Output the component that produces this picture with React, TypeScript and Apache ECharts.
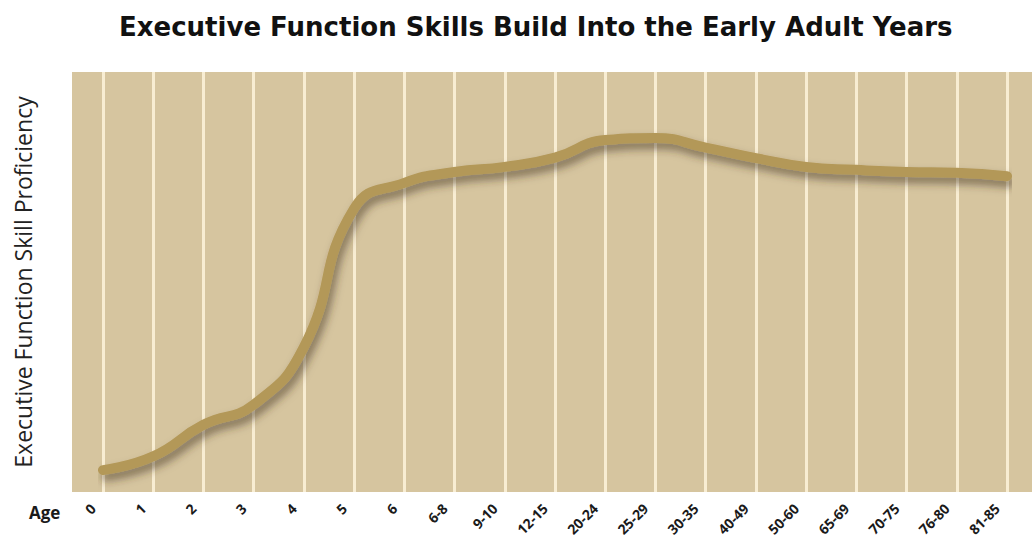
import React, { useEffect, useRef } from "react";
import * as echarts from "echarts";

const titleText = "Executive Function Skills Build Into the Early Adult Years";
const yAxisName = "Executive Function Skill Proficiency";
const xAxisName = "Age";
const ageCategories = [
  "0", "1", "2", "3", "4", "5", "6", "6-8", "9-10", "12-15", "20-24",
  "25-29", "30-35", "40-49", "50-60", "65-69", "70-75", "76-80", "81-85",
];
const proficiency = [
  5.2, 8.5, 16, 20.8, 34.5, 67.5, 73.6, 76.2, 77.4, 79.6, 83.8,
  84.3, 82, 79.5, 77.4, 76.7, 76.2, 76, 75.2,
];

export default function App() {
  const ref = useRef<HTMLDivElement>(null);
  useEffect(() => {
    document.body.style.margin = "0";
    if (!ref.current) return;
    const chart = echarts.init(ref.current, null, { renderer: "svg" });
    chart.setOption({
      animation: false,
      backgroundColor: "#ffffff",
      title: {
        text: titleText,
        left: 114,
        top: 9,
        textStyle: {
          fontFamily: "DejaVu Sans",
          fontWeight: "bold",
          fontSize: 26,
          color: "#111111",
        },
      },
      graphic: [
        {
          type: "text",
          left: 29,
          top: 504,
          style: {
            text: xAxisName,
            font: "bold 17px 'Open Sans'",
            fill: "#1a1a1a",
          },
        },
      ],
      grid: [
        { left: 72, right: 0, top: 72, bottom: 52, show: true, backgroundColor: "#d6c59f", borderWidth: 0, outerBoundsMode: "none", containLabel: false },
        { left: 103, right: 25, top: 72, bottom: 52, outerBoundsMode: "none", containLabel: false },
      ],
      xAxis: [
        { type: "value", gridIndex: 0, show: false, min: 0, max: 1 },
        {
          type: "category",
          gridIndex: 1,
          data: ageCategories,
          boundaryGap: false,
          axisLine: { show: false },
          axisTick: { show: false },
          splitLine: { show: true, lineStyle: { color: "#f8edd2", width: 3 } },
          axisLabel: {
            rotate: 45,
            margin: 4,
            padding: [0, 14, 0, 0],
            fontFamily: "Open Sans",
            fontWeight: "bold",
            fontSize: 14,
            color: "#1a1a1a",
            interval: 0,
          },
        },
      ],
      yAxis: [
        {
          type: "value",
          gridIndex: 0,
          min: 0,
          max: 100,
          name: yAxisName,
          nameLocation: "middle",
          nameGap: 38,
          nameTextStyle: { fontFamily: "Open Sans", fontSize: 23, color: "#222222" },
          axisLine: { show: false },
          axisTick: { show: false },
          axisLabel: { show: false },
          splitLine: { show: false },
        },
        {
          type: "value",
          gridIndex: 1,
          min: 0,
          max: 100,
          axisLine: { show: false },
          axisTick: { show: false },
          axisLabel: { show: false },
          splitLine: { show: false },
        },
      ],
      series: [
        {
          type: "line",
          xAxisIndex: 1,
          yAxisIndex: 1,
          data: proficiency,
          smooth: 0.5,
          symbol: "none",
          lineStyle: {
            color: "#b39858",
            width: 10,
            cap: "round",
            shadowColor: "rgba(60,50,30,0.55)",
            shadowBlur: 8,
            shadowOffsetX: 3,
            shadowOffsetY: 6,
          },
          z: 5,
        },
      ],
    });
    return () => chart.dispose();
  }, []);
  return <div ref={ref} style={{ width: 1032, height: 544 }} />;
}
